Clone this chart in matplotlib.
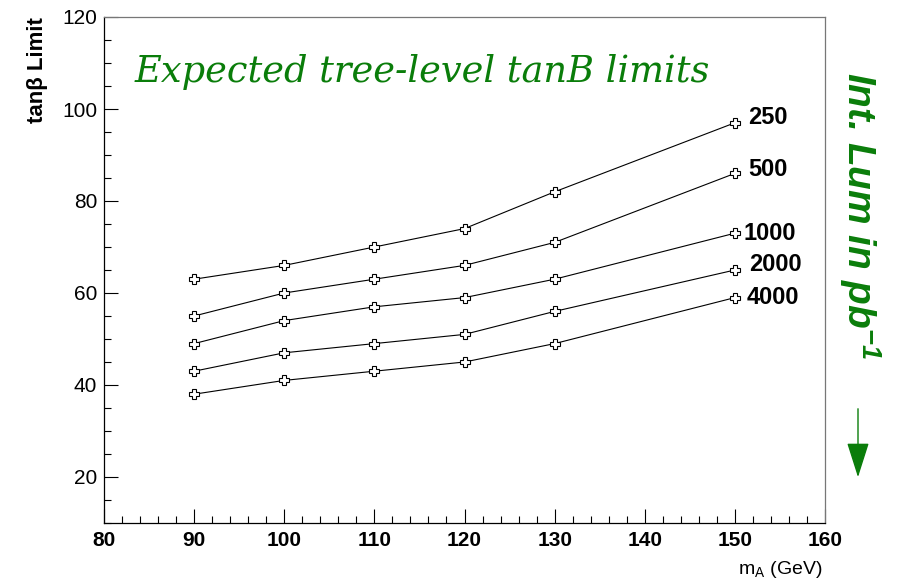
import matplotlib.pyplot as plt
from matplotlib.ticker import MultipleLocator

plt.rcParams["font.family"] = ["Liberation Sans", "DejaVu Sans"]

# data
mass = [90, 100, 110, 120, 130, 150]
lumi_labels = ["250", "500", "1000", "2000", "4000"]
limit_250 = [63, 66, 70, 74, 82, 97]
limit_500 = [55, 60, 63, 66, 71, 86]
limit_1000 = [49, 54, 57, 59, 63, 73]
limit_2000 = [43, 47, 49, 51, 56, 65]
limit_4000 = [38, 41, 43, 45, 49, 59]
curves = [limit_250, limit_500, limit_1000, limit_2000, limit_4000]

green = "#0a7d0a"

fig = plt.figure(figsize=(9, 5.8), dpi=100)
ax = fig.add_axes([104/900, 1-523/580, (825-104)/900, (523-17)/580])

label_dx = [1.5, 1.5, 1.0, 1.6, 1.3]
label_dy = [1.2, 0.8, 0.0, 1.2, 0.0]
for vals, lab, dx, dy in zip(curves, lumi_labels, label_dx, label_dy):
    ax.plot(mass, vals, color="black", lw=0.8, marker="P", ms=7,
            mfc="white", mec="black", mew=0.8)
    ax.text(mass[-1] + dx, vals[-1] + dy, lab, fontsize=17, fontweight="bold",
            ha="left", va="center")

ax.set_xlim(80, 160)
ax.set_ylim(10, 120)
ax.xaxis.set_major_locator(MultipleLocator(10))
ax.xaxis.set_minor_locator(MultipleLocator(2))
ax.yaxis.set_minor_locator(MultipleLocator(5))
ax.set_yticks([20, 40, 60, 80, 100, 120])
ax.tick_params(which="both", direction="in", top=False, right=False)
ax.tick_params(which="major", length=10, width=0.8)
ax.tick_params(which="minor", length=5, width=0.8)
ax.tick_params(axis="y", labelsize=15, pad=5)
ax.tick_params(axis="x", labelsize=15, pad=6)
for t in ax.get_xticklabels():
    t.set_fontweight("bold")
for s in ax.spines.values():
    s.set_linewidth(0.9)
ax.spines["right"].set_color("#777777")
ax.spines["top"].set_color("#777777")

fig.text(37/900, 1-70/580, "tan\u03b2 Limit", rotation=90, fontsize=16,
         fontweight="bold", ha="center", va="center")
fig.text(822/900, 1-569/580, r"m$_{\mathregular{A}}$ (GeV)", fontsize=14,
         ha="right", va="center")

fig.text(135/900, 1-72/580, "Expected tree-level tanB limits", fontsize=26.5,
         style="italic", color=green, family="DejaVu Serif", ha="left", va="center")
fig.text(860/900, 1-215/580, r"Int. Lum in pb$^{\mathregular{-1}}$", rotation=-90,
         fontsize=28, fontweight="bold", style="italic", color=green,
         ha="center", va="center")
fig.add_artist(plt.Annotation("", xy=(858/900, 1-480/580), xytext=(858/900, 1-406/580),
                              xycoords="figure fraction", textcoords="figure fraction",
                              arrowprops=dict(arrowstyle="-|>,head_length=2.2,head_width=0.7",
                                              color=green, lw=1.0)))

fig.savefig("out.png", dpi=100)
